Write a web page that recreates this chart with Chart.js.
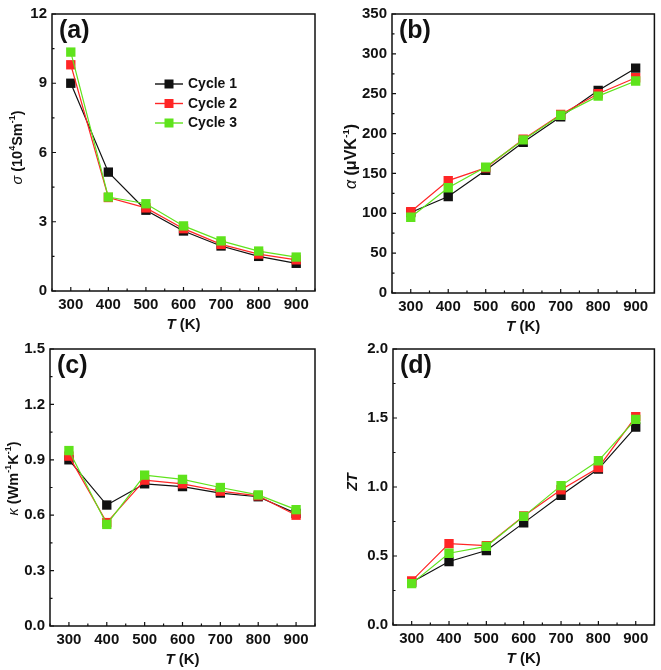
<!DOCTYPE html>
<html><head><meta charset="utf-8">
<script src="https://cdn.jsdelivr.net/npm/chart.js@4.4.1/dist/chart.umd.min.js"></script>
<style>
html,body{margin:0;padding:0;background:#fff;}
#wrap{position:relative;width:661px;height:670px;}
.c{position:absolute;}
</style></head><body>
<div id="wrap">
<div class="c" style="left:0;top:0;width:330px;height:335px"><canvas id="ca"></canvas></div>
<div class="c" style="left:330px;top:0;width:331px;height:335px"><canvas id="cb"></canvas></div>
<div class="c" style="left:0;top:335px;width:330px;height:335px"><canvas id="cc"></canvas></div>
<div class="c" style="left:330px;top:335px;width:331px;height:335px"><canvas id="cd"></canvas></div>
</div>
<script>
// ---- data ----
const temps = [300, 400, 500, 600, 700, 800, 900];
const seriesNames = ['Cycle 1', 'Cycle 2', 'Cycle 3'];
const sigmaC1 = [9.0, 5.15, 3.5, 2.6, 1.95, 1.5, 1.2];
const sigmaC2 = [9.8, 4.05, 3.6, 2.7, 2.02, 1.6, 1.35];
const sigmaC3 = [10.35, 4.07, 3.78, 2.82, 2.17, 1.73, 1.47];
const alphaC1 = [101, 121, 154, 189, 221, 254, 282];
const alphaC2 = [102, 141, 157, 193, 224, 250, 270];
const alphaC3 = [95, 132, 158, 192, 223, 247, 266];
const kappaC1 = [0.90, 0.655, 0.77, 0.755, 0.72, 0.70, 0.61];
const kappaC2 = [0.92, 0.56, 0.79, 0.77, 0.73, 0.705, 0.60];
const kappaC3 = [0.95, 0.55, 0.817, 0.794, 0.75, 0.71, 0.63];
const ztC1 = [0.31, 0.46, 0.54, 0.74, 0.94, 1.13, 1.435];
const ztC2 = [0.32, 0.59, 0.575, 0.79, 0.98, 1.14, 1.51];
const ztC3 = [0.30, 0.52, 0.57, 0.787, 1.01, 1.19, 1.49];
const xTicks = [300, 400, 500, 600, 700, 800, 900];
const sigmaTicks = [0, 3, 6, 9, 12];
const alphaTicks = [0, 50, 100, 150, 200, 250, 300, 350];
const kappaTicks = [0.0, 0.3, 0.6, 0.9, 1.2, 1.5];
const ztTicks = [0.0, 0.5, 1.0, 1.5, 2.0];

const colors = ['#111111', '#ff2626', '#5fe31c'];
const FONT = '"Liberation Sans", Arial, sans-serif';

function drawRich(ctx, segs, x, y, size, angle) {
  const parts = segs.map(s => {
    const fs = s.sup ? size * 0.62 : size;
    const font = (s.italic ? 'italic ' : '') + (s.bold === false ? '' : 'bold ') + fs + 'px ' + FONT;
    ctx.font = font;
    return {t: s.t, font, w: ctx.measureText(s.t).width, dy: s.sup ? -size * 0.38 : 0};
  });
  const total = parts.reduce((a, p) => a + p.w, 0);
  ctx.save();
  ctx.translate(x, y);
  if (angle) ctx.rotate(angle);
  ctx.fillStyle = '#111';
  ctx.textBaseline = 'middle';
  ctx.textAlign = 'left';
  let cx = -total / 2;
  parts.forEach(p => { ctx.font = p.font; ctx.fillText(p.t, cx, p.dy); cx += p.w; });
  ctx.restore();
}

function makeChart(id, cfg) {
  const sets = cfg.series.map((vals, i) => ({
    label: seriesNames[i],
    data: vals.map((v, k) => ({x: temps[k], y: v})),
    borderColor: colors[i],
    backgroundColor: colors[i],
    borderWidth: 1.2,
    pointStyle: 'rect',
    pointRadius: 6.6,
    pointHoverRadius: 6.6,
    pointBorderWidth: 0,
    order: 2 - i,
    tension: 0
  }));
  const deco = {
    id: 'deco',
    afterDraw(chart) {
      const ctx = chart.ctx, a = chart.chartArea;
      const xs = chart.scales.x, ys = chart.scales.y;
      ctx.save();
      ctx.strokeStyle = '#111';
      ctx.lineWidth = 1.5;
      ctx.strokeRect(a.left, a.top, a.right - a.left, a.bottom - a.top);
      ctx.lineWidth = 1.2;
      ctx.beginPath();
      for (let v = 250; v <= 950; v += 50) {
        const px = xs.getPixelForValue(v);
        const len = (v % 100 === 0) ? 4 : 2.5;
        ctx.moveTo(px, a.bottom); ctx.lineTo(px, a.bottom - len);
      }
      const yt = cfg.yTicks, st = yt[1] - yt[0];
      for (let j = 0; j < yt.length; j++) {
        const vals = [yt[j]];
        if (j < yt.length - 1) vals.push(yt[j] + st / 2);
        vals.forEach((v, m) => {
          const py = ys.getPixelForValue(v);
          const len = m === 0 ? 4 : 2.5;
          ctx.moveTo(a.left, py); ctx.lineTo(a.left + len, py);
        });
      }
      ctx.stroke();
      ctx.restore();
      const midY = (a.top + a.bottom) / 2, midX = (a.left + a.right) / 2;
      drawRich(ctx, cfg.yTitle, cfg.yTitleX, midY + cfg.yTitleShift, cfg.yTitleSize, -Math.PI / 2);
      drawRich(ctx, [{t: 'T', italic: true}, {t: ' (K)'}], midX, a.bottom + 34, 15, 0);
      ctx.save();
      ctx.font = 'bold 25px ' + FONT;
      ctx.fillStyle = '#111';
      ctx.textBaseline = 'middle';
      ctx.fillText(cfg.panel, a.left + 7, a.top + 17);
      ctx.restore();
      if (cfg.legend) {
        ctx.save();
        chart.data.datasets.forEach((ds, i) => {
          const ly = cfg.legend.y + i * 19.5, lx = cfg.legend.x;
          ctx.strokeStyle = ds.borderColor; ctx.lineWidth = 1.4;
          ctx.beginPath(); ctx.moveTo(lx, ly); ctx.lineTo(lx + 28, ly); ctx.stroke();
          ctx.fillStyle = ds.backgroundColor;
          ctx.fillRect(lx + 14 - 4.5, ly - 4.5, 9, 9);
          ctx.fillStyle = '#111';
          ctx.font = 'bold 14px ' + FONT;
          ctx.textBaseline = 'middle';
          ctx.fillText(ds.label, lx + 33, ly + 0.5);
        });
        ctx.restore();
      }
    }
  };
  return new Chart(document.getElementById(id), {
    type: 'line',
    data: {datasets: sets},
    plugins: [deco],
    options: {
      responsive: true,
      maintainAspectRatio: false,
      animation: false,
      layout: {padding: {left: 0, top: cfg.pad.top, right: cfg.pad.right, bottom: 0}},
      plugins: {legend: {display: false}, tooltip: {enabled: false}},
      scales: {
        x: {
          type: 'linear', min: 250, max: 950,
          grid: {display: false, drawTicks: false},
          border: {display: false},
          afterBuildTicks: s => { s.ticks = xTicks.map(v => ({value: v})); },
          afterFit: s => { s.height = cfg.pad.xh; },
          ticks: {padding: 5, color: '#111', font: {family: FONT, weight: 'bold', size: 15}, maxRotation: 0}
        },
        y: {
          type: 'linear', min: cfg.yTicks[0], max: cfg.yTicks[cfg.yTicks.length - 1],
          grid: {display: false, drawTicks: false},
          border: {display: false},
          afterBuildTicks: s => { s.ticks = cfg.yTicks.map(v => ({value: v})); },
          afterFit: s => { s.width = cfg.pad.yw; },
          ticks: {padding: 5, color: '#111', font: {family: FONT, weight: 'bold', size: 15},
                  callback: v => cfg.fmt(v)}
        }
      }
    }
  });
}

makeChart('ca', {
  series: [sigmaC1, sigmaC2, sigmaC3], yTicks: sigmaTicks, fmt: v => String(v),
  pad: {top: 11, right: 15, xh: 44, yw: 52}, panel: '(a)', yTitleX: 18, yTitleShift: -5, yTitleSize: 14.5,
  yTitle: [{t: 'σ', italic: true, bold: false}, {t: ' (10'}, {t: '4', sup: true}, {t: 'Sm'}, {t: '-1', sup: true}, {t: ')'}]
  , legend: {x: 155, y: 84}
});
makeChart('cb', {
  series: [alphaC1, alphaC2, alphaC3], yTicks: alphaTicks, fmt: v => String(v),
  pad: {top: 11, right: 6, xh: 42, yw: 62}, panel: '(b)', yTitleX: 22, yTitleShift: 3, yTitleSize: 16,
  yTitle: [{t: 'α', italic: true, bold: false}, {t: ' (μVK'}, {t: '-1', sup: true}, {t: ')'}]
});
makeChart('cc', {
  series: [kappaC1, kappaC2, kappaC3], yTicks: kappaTicks, fmt: v => v.toFixed(1),
  pad: {top: 10, right: 15, xh: 44, yw: 50}, panel: '(c)', yTitleX: 14, yTitleShift: -9, yTitleSize: 14.5,
  yTitle: [{t: 'κ', italic: true, bold: false}, {t: ' (Wm'}, {t: '-1', sup: true}, {t: 'K'}, {t: '-1', sup: true}, {t: ')'}]
});
makeChart('cd', {
  series: [ztC1, ztC2, ztC3], yTicks: ztTicks, fmt: v => v.toFixed(1),
  pad: {top: 10, right: 6, xh: 45, yw: 63}, panel: '(d)', yTitleX: 23, yTitleShift: -5, yTitleSize: 14.5,
  yTitle: [{t: 'ZT', italic: true}]
});
</script>
</body></html>
